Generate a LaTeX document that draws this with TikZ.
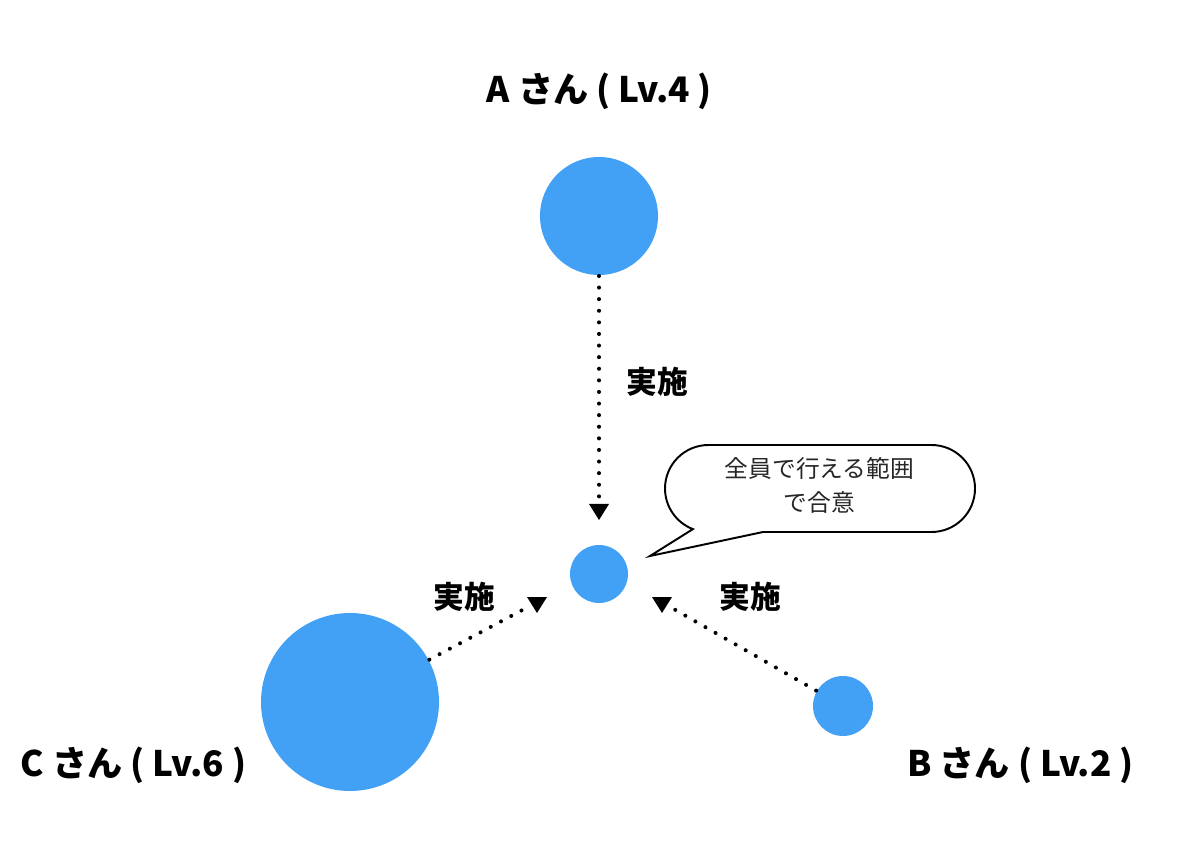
\documentclass[tikz,border=0pt]{standalone}
\usepackage{fontspec}
\setmainfont{Noto Sans CJK JP}
\usetikzlibrary{arrows.meta}
\definecolor{ballblue}{RGB}{66,161,245}

\begin{document}
\begin{tikzpicture}[line width=1.1pt,
  ball/.style={circle,fill=ballblue,inner sep=0pt},
  whoname/.style={font=\fontsize{20}{24}\selectfont\bfseries},
  doit/.style={font=\fontsize{17.5}{20}\selectfont\bfseries},
  dotline/.style={line width=2.3pt,line cap=round,dash pattern=on 0pt off 6.6pt},
  tipdown/.pic={\fill (-0.2,0.32) -- (0.2,0.32) -- (0,0) -- cycle;}]
\useasboundingbox (0,0) rectangle (24,17);
% ---------- 人 ----------
\node[ball,minimum size=2.36cm] (A) at (11.98,12.68) {};
\node[ball,minimum size=1.16cm] (M) at (11.98,5.52) {};
\node[ball,minimum size=3.56cm] (C) at (7.0,2.96) {};
\node[ball,minimum size=1.2cm] (B) at (16.86,2.88) {};
\node[whoname] (nameA) at (11.99,15.18) {A さん ( Lv.4 )};
\node[whoname] (nameC) at (2.67,1.7) {C さん ( Lv.6 )};
\node[whoname] (nameB) at (20.41,1.7) {B さん ( Lv.2 )};
% ---------- 実施（点線の矢印）----------
\coordinate (aend) at (11.98,6.94);
\coordinate (cend) at (10.56,4.86);
\coordinate (bend) at (13.44,4.84);
\draw[dotline] (A) -- (aend);
\draw[dotline] (C) -- (cend);
\draw[dotline] (B) -- (bend);
\pic at (11.98,6.6) {tipdown};
\pic at (10.74,4.74) {tipdown};
\pic at (13.24,4.74) {tipdown};
\node[doit] (doA) at (13.14,9.36) {実施};
\node[doit] (doC) at (9.28,5.06) {実施};
\node[doit] (doB) at (15.0,5.06) {実施};
% ---------- 吹き出し ----------
\draw[fill=white] (15.26,6.36) -- (18.63,6.36)
  arc[start angle=-90,end angle=90,radius=0.87] -- (14.17,8.1)
  arc[start angle=90,end angle=249,radius=0.87] -- (13.0,5.88) -- cycle;
\node[font=\fontsize{13.5}{19.8}\selectfont,text=black!85,align=center]
  (agree) at (16.39,7.29) {全員で行える範囲\\で合意};
\end{tikzpicture}
\end{document}
